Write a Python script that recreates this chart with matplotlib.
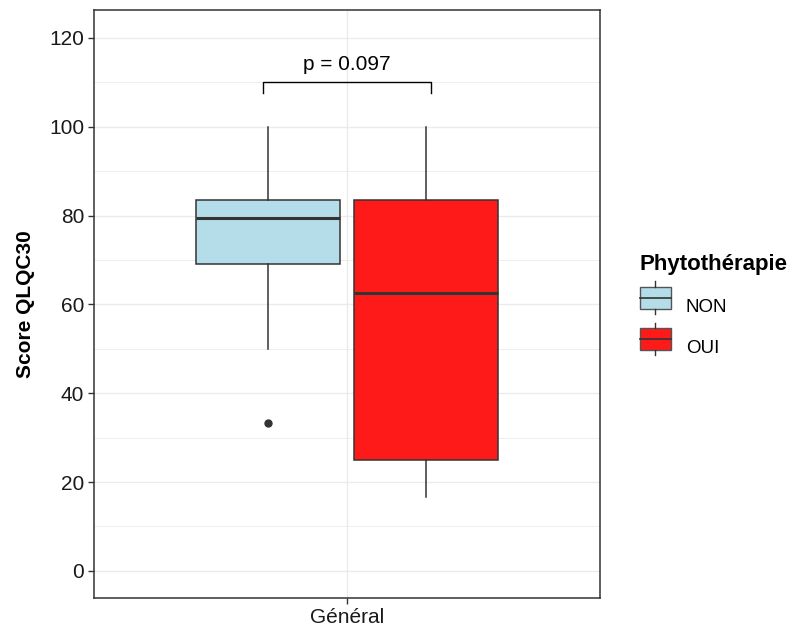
import matplotlib.pyplot as plt
from matplotlib.legend_handler import HandlerBase
from matplotlib.patches import Rectangle
from matplotlib.lines import Line2D
from matplotlib.colors import to_rgb

plt.rcParams["font.family"] = ["Liberation Sans", "DejaVu Sans"]

# box statistics
groups = ["NON", "OUI"]
colors = {"NON": "#ADD8E6", "OUI": "#FF0000"}
whislo = [50.0, 16.7]
q1 = [69.0, 25.0]
med = [79.5, 62.5]
q3 = [83.5, 83.5]
whishi = [100.0, 100.0]
fliers = [[33.3], []]
category = "Général"
p_text = "p = 0.097"
bracket_y = 110
edge = "#333333"

stats = []
for i, g in enumerate(groups):
    stats.append({
        "label": g, "whislo": whislo[i], "q1": q1[i], "med": med[i],
        "q3": q3[i], "whishi": whishi[i], "fliers": fliers[i],
    })

fig = plt.figure(figsize=(8.05, 6.34), dpi=100)
ax = fig.add_axes([94 / 805, 36 / 634, 506 / 805, 588 / 634])

offsets = [-0.1875, 0.1875]
bp = ax.bxp(
    stats, positions=[1 + o for o in offsets], widths=0.34,
    patch_artist=True, showcaps=False,
    boxprops=dict(edgecolor=edge, linewidth=1.1),
    medianprops=dict(color=edge, linewidth=2.2),
    whiskerprops=dict(color=edge, linewidth=1.1),
    flierprops=dict(marker="o", markerfacecolor=edge, markeredgecolor=edge, markersize=5),
    zorder=3,
)
# fill with alpha 0.9 over white
for patch, g in zip(bp["boxes"], groups):
    r, gg, b = to_rgb(colors[g])
    patch.set_facecolor((r * 0.9 + 0.1, gg * 0.9 + 0.1, b * 0.9 + 0.1))

# significance bracket
x0, x1 = 1 - 0.2, 1 + 0.2
ax.plot([x0, x0, x1, x1], [bracket_y - 2.5, bracket_y, bracket_y, bracket_y - 2.5],
        color="black", linewidth=1.0, zorder=4)
ax.text(1, bracket_y + 2.0, p_text, ha="center", va="bottom", fontsize=15, color="black")

ax.set_xlim(0.4, 1.6)
ax.set_ylim(-6.1, 126.3)
ax.set_xticks([1])
ax.set_xticklabels([category])
ax.set_yticks(range(0, 121, 20))
ax.set_yticks(range(10, 120, 20), minor=True)
ax.tick_params(axis="both", which="major", labelsize=15, colors=edge,
               labelcolor="#1a1a1a", length=4, width=1, pad=3)
ax.tick_params(axis="y", which="minor", length=0)
ax.grid(which="major", color="#EBEBEB", linewidth=1.0, zorder=0)
ax.grid(which="minor", axis="y", color="#EBEBEB", linewidth=0.6, zorder=0)
ax.set_axisbelow(True)
for s in ax.spines.values():
    s.set_color(edge)
    s.set_linewidth(1.1)
ax.set_ylabel("Score QLQC30", fontsize=15, fontweight="bold", labelpad=10)


class BoxKey(HandlerBase):
    def create_artists(self, legend, orig_handle, xdescent, ydescent,
                       width, height, fontsize, trans):
        fc = orig_handle.get_facecolor()
        cx = xdescent + width / 2
        rect = Rectangle((xdescent, ydescent - height * 0.05), width, height * 1.1,
                         facecolor=fc, edgecolor="#555555", linewidth=1.0, transform=trans)
        mid = Line2D([xdescent, xdescent + width], [ydescent + height / 2] * 2,
                     color=edge, linewidth=1.2, transform=trans)
        top = Line2D([cx, cx], [ydescent + height * 1.05, ydescent + height * 1.3],
                     color=edge, linewidth=1.0, transform=trans)
        bot = Line2D([cx, cx], [ydescent - height * 0.05, ydescent - height * 0.3],
                     color=edge, linewidth=1.0, transform=trans)
        return [rect, mid, top, bot]


handles = [Rectangle((0, 0), 1, 1, facecolor=p.get_facecolor()) for p in bp["boxes"]]
leg = fig.legend(handles, groups, loc="upper left", bbox_to_anchor=(623 / 805, 1 - 237 / 634),
                 frameon=False, title="Phytothérapie", fontsize=13.5,
                 title_fontproperties={"weight": "bold", "size": 16},
                 handler_map={Rectangle: BoxKey()}, handlelength=1.65, handleheight=1.3,
                 labelspacing=1.1, handletextpad=0.8)
leg._legend_box.align = "left"

plt.savefig("out.png", dpi=100)
